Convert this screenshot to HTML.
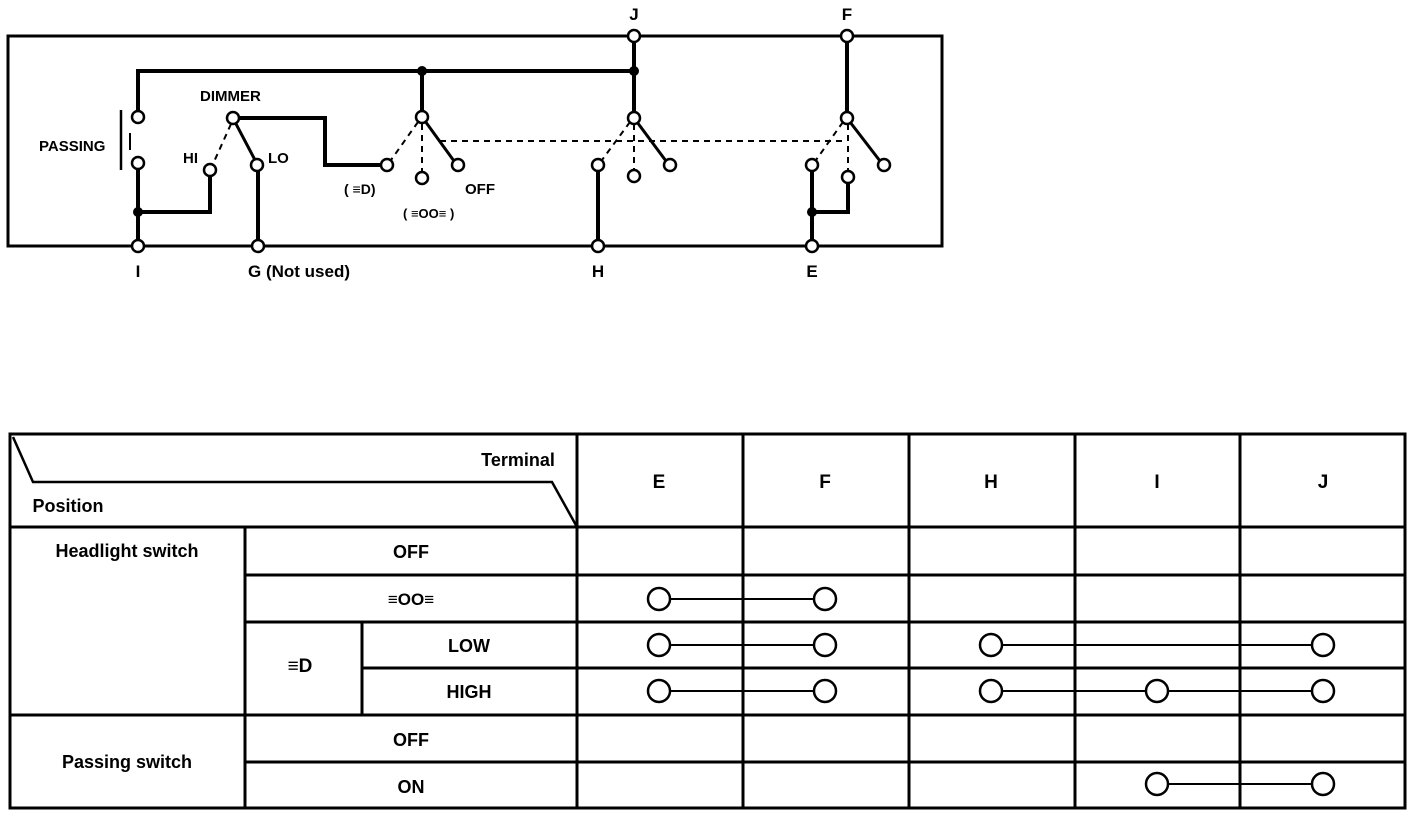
<!DOCTYPE html>
<html><head><meta charset="utf-8"><style>
html,body{margin:0;padding:0;background:#fff;}
svg{display:block;}
text{font-family:"Liberation Sans",sans-serif;fill:#000;}
.b{font-weight:bold;}
</style></head><body>
<svg width="1424" height="832" viewBox="0 0 1424 832" xmlns="http://www.w3.org/2000/svg">
<g fill="none" stroke="#000">
 <rect x="8" y="36" width="934" height="210" stroke-width="3"/>
 <g stroke-width="4" stroke-linejoin="miter">
  <polyline points="138,111 138,71 634,71"/>
  <line x1="634" y1="42" x2="634" y2="112"/>
  <line x1="422" y1="71" x2="422" y2="111"/>
  <polyline points="138,169 138,240"/>
  <polyline points="138,212 210,212 210,176"/>
  <polyline points="239,118 325,118 325,165 381,165"/>
  <line x1="258" y1="171" x2="258" y2="240"/>
  <line x1="598" y1="171" x2="598" y2="240"/>
  <line x1="847" y1="42" x2="847" y2="112"/>
  <line x1="812" y1="171" x2="812" y2="240"/>
  <polyline points="812,212 848,212 848,183"/>
 </g>
 <g stroke-width="3">
  <line x1="235" y1="122" x2="255" y2="160"/>
  <line x1="425" y1="121" x2="454" y2="161"/>
  <line x1="637" y1="122" x2="666" y2="161"/>
  <line x1="850" y1="122" x2="880" y2="161"/>
 </g>
 <g stroke-width="2" stroke-dasharray="6,5">
  <line x1="231" y1="124" x2="213" y2="164"/>
  <line x1="418" y1="122" x2="391" y2="160"/>
  <line x1="422" y1="124" x2="422" y2="172"/>
  <line x1="630" y1="122" x2="602" y2="160"/>
  <line x1="634" y1="124" x2="634" y2="170"/>
  <line x1="843" y1="122" x2="816" y2="160"/>
  <line x1="848" y1="124" x2="848" y2="171"/>
  <line x1="440" y1="141" x2="845" y2="141"/>
 </g>
 <line x1="121" y1="110" x2="121" y2="170" stroke-width="2.5"/>
 <line x1="130" y1="133" x2="130" y2="150" stroke-width="2"/>
 <g stroke-width="2.5" fill="#fff">
  <circle cx="138" cy="117" r="6"/><circle cx="138" cy="163" r="6"/>
  <circle cx="233" cy="118" r="6"/><circle cx="210" cy="170" r="6"/><circle cx="257" cy="165" r="6"/>
  <circle cx="422" cy="117" r="6"/><circle cx="387" cy="165" r="6"/><circle cx="422" cy="178" r="6"/><circle cx="458" cy="165" r="6"/>
  <circle cx="634" cy="118" r="6"/><circle cx="598" cy="165" r="6"/><circle cx="634" cy="176" r="6"/><circle cx="670" cy="165" r="6"/>
  <circle cx="847" cy="118" r="6"/><circle cx="812" cy="165" r="6"/><circle cx="848" cy="177" r="6"/><circle cx="884" cy="165" r="6"/>
  <circle cx="634" cy="36" r="6"/><circle cx="847" cy="36" r="6"/>
  <circle cx="138" cy="246" r="6"/><circle cx="258" cy="246" r="6"/><circle cx="598" cy="246" r="6"/><circle cx="812" cy="246" r="6"/>
 </g>
 <g fill="#000" stroke="none">
  <circle cx="422" cy="71" r="5"/><circle cx="634" cy="71" r="5"/>
  <circle cx="138" cy="212" r="5"/><circle cx="812" cy="212" r="5"/>
 </g>
</g>
<g class="b" font-size="17">
 <text x="634" y="20" text-anchor="middle">J</text>
 <text x="847" y="20" text-anchor="middle">F</text>
 <text x="138" y="277" text-anchor="middle">I</text>
 <text x="248" y="277">G (Not used)</text>
 <text x="598" y="277" text-anchor="middle">H</text>
 <text x="812" y="277" text-anchor="middle">E</text>
 <text x="39" y="151" font-size="15">PASSING</text>
 <text x="200" y="101" font-size="15">DIMMER</text>
 <text x="183" y="163" font-size="15">HI</text>
 <text x="268" y="163" font-size="15">LO</text>
 <text x="465" y="194" font-size="15">OFF</text>
 <text x="344" y="194" font-size="14">( ≡D)</text>
 <text x="403" y="218" font-size="13">( ≡OO≡ )</text>
</g>
<g fill="none" stroke="#000" stroke-width="3">
 <rect x="10" y="434" width="1395" height="374"/>
 <line x1="577" y1="434" x2="577" y2="808"/>
 <line x1="743" y1="434" x2="743" y2="808"/>
 <line x1="909" y1="434" x2="909" y2="808"/>
 <line x1="1075" y1="434" x2="1075" y2="808"/>
 <line x1="1240" y1="434" x2="1240" y2="808"/>
 <line x1="10" y1="527" x2="1405" y2="527"/>
 <line x1="245" y1="575" x2="1405" y2="575"/>
 <line x1="245" y1="622" x2="1405" y2="622"/>
 <line x1="362" y1="668" x2="1405" y2="668"/>
 <line x1="10" y1="715" x2="1405" y2="715"/>
 <line x1="245" y1="762" x2="1405" y2="762"/>
 <line x1="245" y1="527" x2="245" y2="808"/>
 <line x1="362" y1="622" x2="362" y2="715"/>
 <polyline points="13,437 33,482 552,482 577,527" stroke-width="2.5"/>
</g>
<g stroke="#000" stroke-width="2" fill="none">
 <line x1="659" y1="599" x2="825" y2="599"/>
 <line x1="659" y1="645" x2="825" y2="645"/>
 <line x1="659" y1="691" x2="825" y2="691"/>
 <line x1="991" y1="645" x2="1323" y2="645"/>
 <line x1="991" y1="691" x2="1323" y2="691"/>
 <line x1="1157" y1="784" x2="1323" y2="784"/>
 <g fill="#fff" stroke-width="2.5">
  <circle cx="659" cy="599" r="11"/><circle cx="825" cy="599" r="11"/>
  <circle cx="659" cy="645" r="11"/><circle cx="825" cy="645" r="11"/>
  <circle cx="659" cy="691" r="11"/><circle cx="825" cy="691" r="11"/>
  <circle cx="991" cy="645" r="11"/><circle cx="1323" cy="645" r="11"/>
  <circle cx="991" cy="691" r="11"/><circle cx="1157" cy="691" r="11"/><circle cx="1323" cy="691" r="11"/>
  <circle cx="1157" cy="784" r="11"/><circle cx="1323" cy="784" r="11"/>
 </g>
</g>
<g font-size="19" class="b" text-anchor="middle">
 <text x="659" y="488">E</text><text x="825" y="488">F</text><text x="991" y="488">H</text><text x="1157" y="488">I</text><text x="1323" y="488">J</text>
</g>
<g font-size="18" class="b" text-anchor="middle">
 <text x="518" y="466">Terminal</text>
 <text x="68" y="512">Position</text>
 <text x="127" y="557">Headlight switch</text>
 <text x="411" y="558">OFF</text>
 <text x="411" y="605" font-size="17">≡OO≡</text>
 <text x="300" y="672" font-size="19">≡D</text>
 <text x="469" y="652">LOW</text>
 <text x="469" y="698">HIGH</text>
 <text x="127" y="768">Passing switch</text>
 <text x="411" y="746">OFF</text>
 <text x="411" y="793">ON</text>
</g>
</svg>
</body></html>
